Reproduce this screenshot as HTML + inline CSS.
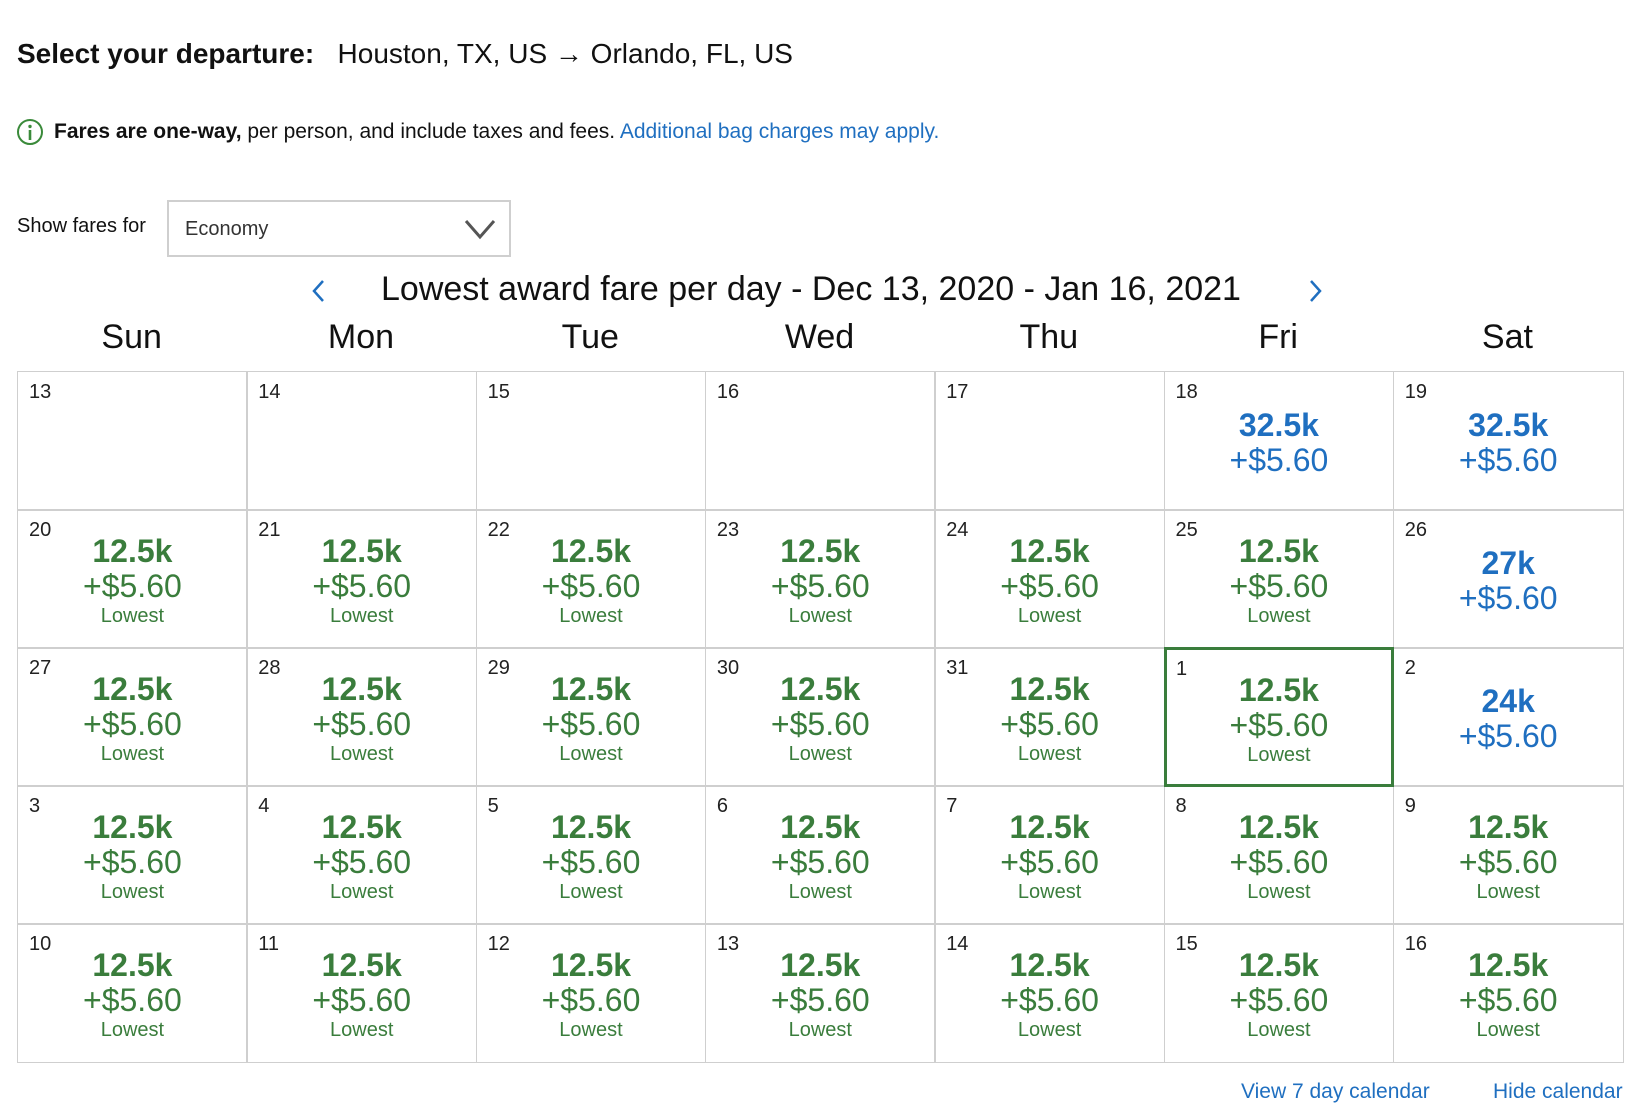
<!DOCTYPE html>
<html><head><meta charset="utf-8">
<style>
body{margin:0;width:1638px;height:1106px;background:#fff;font-family:"Liberation Sans",sans-serif;color:#111;position:relative;overflow:hidden}
.a{position:absolute;white-space:nowrap}
.cell{position:absolute;box-sizing:border-box;border:1.5px solid #cfcfcf}
.inner{position:absolute;left:0;right:0;top:0;bottom:0}
.num{position:absolute;left:11px;top:9px;font-size:20px;color:#222}
.c{position:absolute;left:0;right:0;text-align:center;line-height:1}
.green{color:#3a7d3c}.blue{color:#1f6fc0}
</style></head><body>
<div class="a" style="left:17px;top:38px;font-size:28px"><b>Select your departure:</b>&nbsp;&nbsp; Houston, TX, US → Orlando, FL, US</div>
<svg class="a" style="left:16px;top:118px" width="28" height="28"><circle cx="14" cy="14" r="12" fill="none" stroke="#3a8a3a" stroke-width="2"/><circle cx="14" cy="8.5" r="1.7" fill="#3a8a3a"/><rect x="12.7" y="12" width="2.6" height="10" fill="#3a8a3a"/></svg>
<div class="a" style="left:54px;top:120px;font-size:21px"><b>Fares are one-way,</b> per person, and include taxes and fees. <span style="color:#1f6fc0">Additional bag charges may apply.</span></div>
<div class="a" style="left:17px;top:215px;font-size:20px">Show fares for</div>
<div class="a" style="left:167px;top:200px;width:344px;height:57px;box-sizing:border-box;border:2px solid #cfcfcf">
<span style="position:absolute;left:16px;top:16px;font-size:20px;color:#333">Economy</span>
<svg style="position:absolute;right:12px;top:16px" width="34" height="22"><polyline points="3,3 17,19 31,3" fill="none" stroke="#555" stroke-width="3"/></svg></div>
<svg class="a" style="left:310px;top:278px" width="18" height="26"><polyline points="13,3 4,13 13,23" fill="none" stroke="#1f6fc0" stroke-width="2.5"/></svg>
<div class="a" style="left:381px;top:270px;font-size:34px">Lowest award fare per day - Dec 13, 2020 - Jan 16, 2021</div>
<svg class="a" style="left:1306px;top:278px" width="18" height="26"><polyline points="5,3 14,13 5,23" fill="none" stroke="#1f6fc0" stroke-width="2.5"/></svg>
<div id="grid"></div>
<div class="a" style="left:1241px;top:1080px;font-size:21px;color:#1f6fc0">View 7 day calendar</div>
<div class="a" style="left:1493px;top:1080px;font-size:21px;color:#1f6fc0">Hide calendar</div>
<script>
const dayNames=["Sun","Mon","Tue","Wed","Thu","Fri","Sat"];
const dates=[13,14,15,16,17,18,19,20,21,22,23,24,25,26,27,28,29,30,31,1,2,3,4,5,6,7,8,9,10,11,12,13,14,15,16];
const miles=[null,null,null,null,null,"32.5k","32.5k","12.5k","12.5k","12.5k","12.5k","12.5k","12.5k","27k","12.5k","12.5k","12.5k","12.5k","12.5k","12.5k","24k","12.5k","12.5k","12.5k","12.5k","12.5k","12.5k","12.5k","12.5k","12.5k","12.5k","12.5k","12.5k","12.5k","12.5k"];
const taxes="+$5.60";
const selectedIndex=19;
const X0=17,Y0=371,W=229.3,H=138;
const g=document.getElementById('grid');
dayNames.forEach((d,i)=>{const e=document.createElement('div');e.className='a';


e.style.cssText=`left:${X0+i*W}px;width:${W}px;text-align:center;top:318px;font-size:34px`;e.textContent=d;g.appendChild(e);});
dates.forEach((d,i)=>{const col=i%7,row=Math.floor(i/7);const c=document.createElement('div');c.className='cell';


c.style.left=(X0+col*W)+'px';c.style.top=(Y0+row*H)+'px';c.style.width=(W+1.5)+'px';c.style.height=(H+1.5)+'px';
const sel=i===selectedIndex;
let h=`<div class="inner" style="${sel?'margin:-1.5px':''}"><div class="num">${d}</div>`;const m=miles[i];
if(m){const low=m==="12.5k";const cl=low?'green':'blue';const o=low?0:12;
h+=`<div class="c ${cl}" style="top:${25+o}px;font-size:32px;font-weight:bold">${m}</div><div class="c ${cl}" style="top:${60+o}px;font-size:32px">${taxes}</div>`;
if(low)h+=`<div class="c ${cl}" style="top:96px;font-size:20px">Lowest</div>`;}
h+='</div>';
c.innerHTML=h;g.appendChild(c);
if(sel){c.style.border='3px solid #3a7d3c';c.style.zIndex=2;}});
</script>
</body></html>
